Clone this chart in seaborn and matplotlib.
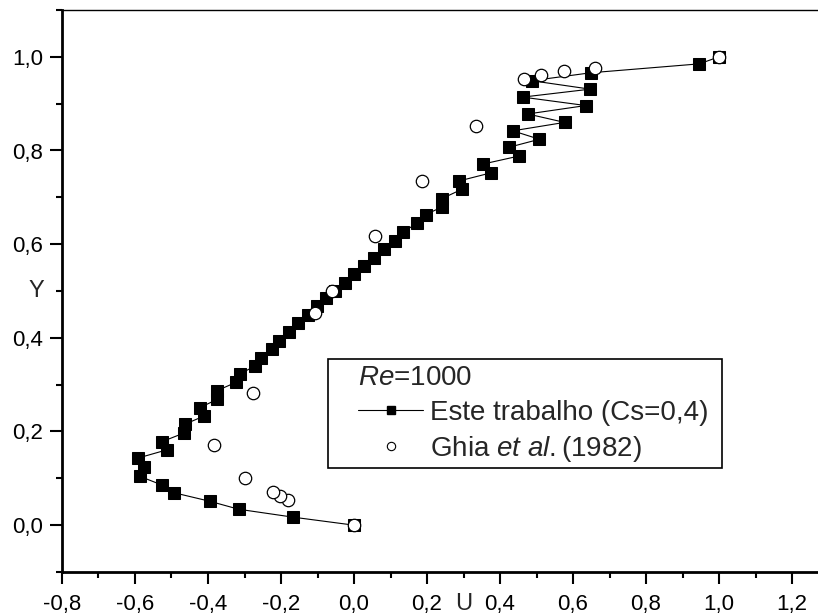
import numpy as np
import pandas as pd
import seaborn as sns
import matplotlib.pyplot as plt
from matplotlib.lines import Line2D
from matplotlib.patches import Rectangle
from matplotlib.ticker import MultipleLocator, FuncFormatter

# Este trabalho (Cs=0,4): perfil de U ao longo da linha vertical central
y_trab = [0.0, 0.017, 0.034, 0.051, 0.069, 0.086, 0.104, 0.124, 0.143, 0.161,
          0.178, 0.197, 0.216, 0.233, 0.251, 0.269, 0.287, 0.305, 0.323, 0.340,
          0.358, 0.376, 0.394, 0.412, 0.431, 0.449, 0.467, 0.484, 0.501, 0.518,
          0.536, 0.553, 0.571, 0.589, 0.607, 0.626, 0.645, 0.663, 0.679, 0.697,
          0.717, 0.735, 0.752, 0.771, 0.788, 0.807, 0.824, 0.842, 0.860, 0.878,
          0.896, 0.914, 0.931, 0.949, 0.966, 0.985, 1.0]
u_trab = [0.0, -0.166, -0.316, -0.395, -0.492, -0.527, -0.586, -0.575, -0.593, -0.512,
          -0.527, -0.465, -0.462, -0.411, -0.422, -0.374, -0.376, -0.323, -0.312, -0.271,
          -0.256, -0.226, -0.205, -0.178, -0.153, -0.127, -0.102, -0.077, -0.052, -0.025,
          0.0, 0.027, 0.056, 0.082, 0.112, 0.135, 0.173, 0.196, 0.240, 0.240,
          0.295, 0.288, 0.374, 0.353, 0.451, 0.425, 0.508, 0.435, 0.577, 0.476,
          0.635, 0.462, 0.647, 0.487, 0.649, 0.946, 1.0]

# Ghia et al. (1982), Re=1000
y_ghia = [0.0, 0.0547, 0.0625, 0.0703, 0.1016, 0.1719, 0.2813, 0.4531, 0.5,
          0.6172, 0.7344, 0.8516, 0.9531, 0.9609, 0.9688, 0.9766, 1.0]
u_ghia = [0.0, -0.18109, -0.20196, -0.22220, -0.29730, -0.38289, -0.27805, -0.10648,
          -0.06080, 0.05702, 0.18719, 0.33304, 0.46604, 0.51117, 0.57492, 0.65928, 1.0]

df_trab = pd.DataFrame({'U': u_trab, 'Y': y_trab})
df_ghia = pd.DataFrame({'U': u_ghia, 'Y': y_ghia})

sns.set_style('ticks')
plt.rcParams['font.family'] = ['Liberation Sans', 'DejaVu Sans']
plt.rcParams['mathtext.fontset'] = 'custom'
plt.rcParams['mathtext.rm'] = 'Liberation Sans'
plt.rcParams['mathtext.it'] = 'Liberation Sans:italic'

fig = plt.figure(figsize=(8.18, 6.16), dpi=100)
ax = fig.add_axes([62 / 818, 44 / 616, 756 / 818, 562 / 616])

sns.lineplot(data=df_trab, x='U', y='Y', sort=False, estimator=None, ax=ax,
             color='black', lw=0.8, marker='s', markersize=8,
             markerfacecolor='black', markeredgecolor='black')
sns.scatterplot(data=df_ghia, x='U', y='Y', ax=ax, marker='o', s=80,
                facecolor='white', edgecolor='black', linewidth=0.9, zorder=3)

ax.set_xlim(-0.8, -0.8 + 756 / 365)
ax.set_ylim(-0.1, 1.1)
ax.xaxis.set_major_locator(MultipleLocator(0.2))
ax.xaxis.set_minor_locator(MultipleLocator(0.1))
ax.yaxis.set_major_locator(MultipleLocator(0.2))
ax.yaxis.set_minor_locator(MultipleLocator(0.1))
fmt = FuncFormatter(lambda v, p: f"{0.0 if abs(v) < 1e-9 else v:.1f}".replace('.', ','))
ax.xaxis.set_major_formatter(fmt)
ax.yaxis.set_major_formatter(fmt)
ax.tick_params(which='major', direction='out', length=8.5, width=1.5,
               labelsize=16, pad=5, color='black', labelcolor='black')
ax.tick_params(which='minor', direction='out', length=4.5, width=1.5, color='black')
ax.tick_params(axis='x', which='major', pad=7)

for s in ['left', 'bottom']:
    ax.spines[s].set_linewidth(2)
    ax.spines[s].set_color('black')
ax.spines['top'].set_visible(True)
ax.spines['top'].set_linewidth(1)
ax.spines['top'].set_color('black')
ax.spines['right'].set_visible(False)

ax.set_xlabel('')
ax.set_ylabel('')
ax.text(-0.034, 0.5, 'Y', transform=ax.transAxes, fontsize=17, ha='center', va='center')
ax.text(0.531, -0.057, 'U', transform=ax.transAxes, fontsize=17, ha='center', va='center')

# caixa da legenda
ax.add_patch(Rectangle((0.352, 0.185), 0.521, 0.194, transform=ax.transAxes,
                       facecolor='white', edgecolor='black', lw=1.2, zorder=4))

handles = [
    Line2D([], [], color='black', lw=0.8, marker='s', markersize=5.5,
           markerfacecolor='black', markeredgecolor='black'),
    Line2D([], [], color='black', lw=0, marker='o', markersize=6,
           markerfacecolor='white', markeredgecolor='black', markeredgewidth=0.8),
]
labels = ['Este trabalho (Cs=0,4)', r'Ghia $\mathit{et\ al.}$(1982)']
leg = ax.legend(handles, labels, loc='upper left', bbox_to_anchor=(0.3915, 0.368),
                borderaxespad=0, borderpad=0, fontsize=20, title=r'$\mathit{Re}$=1000',
                title_fontsize=20, alignment='left', frameon=False,
                handlelength=2.35, handletextpad=0.25, labelspacing=0.3, numpoints=1)
leg.set_zorder(5)

fig.savefig('out.png', dpi=100)
